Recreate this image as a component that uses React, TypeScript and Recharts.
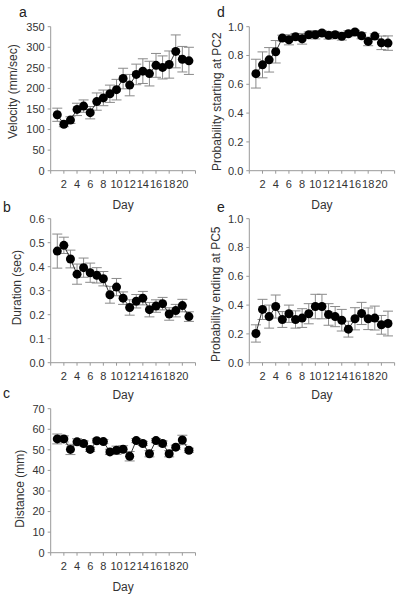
import { LineChart, Line, XAxis, YAxis, ErrorBar, Label } from "recharts";

const days = [1, 2, 3, 4, 5, 6, 7, 8, 9, 10, 11, 12, 13, 14, 15, 16, 17, 18, 19, 20, 21];
const dayTicks = [0, 2, 4, 6, 8, 10, 12, 14, 16, 18, 20, 22];

const velocity = [136, 113, 123, 149, 157, 141, 168, 177, 187, 197, 224, 208, 234, 242, 236, 256, 251, 258, 290, 271, 267];
const velocityErr = [16, 6, 8, 15, 15, 15, 21, 19, 21, 25, 25, 26, 25, 30, 30, 29, 28, 33, 40, 31, 33];

const duration = [0.465, 0.489, 0.432, 0.369, 0.396, 0.375, 0.364, 0.35, 0.283, 0.315, 0.269, 0.23, 0.256, 0.269, 0.221, 0.236, 0.246, 0.203, 0.217, 0.238, 0.192];
const durationErr = [0.071, 0.034, 0.037, 0.042, 0.04, 0.04, 0.032, 0.03, 0.035, 0.036, 0.026, 0.032, 0.028, 0.028, 0.03, 0.026, 0.026, 0.026, 0.026, 0.026, 0.02];

const distance = [55.3, 55.3, 50.2, 53.9, 53.1, 50.2, 54.4, 54, 49, 49.8, 50.3, 46.9, 54.5, 53.1, 48.1, 54.5, 53.1, 48.1, 51.3, 54.8, 49.8];
const distanceErr = [2.4, 1.5, 2.5, 1.5, 1.2, 1, 1, 1, 1.3, 2, 1.7, 2.3, 1, 1, 1.5, 1, 1.2, 1.5, 1, 2.3, 1];

const startPC2 = [0.674, 0.735, 0.77, 0.826, 0.921, 0.909, 0.93, 0.916, 0.944, 0.944, 0.956, 0.94, 0.944, 0.933, 0.951, 0.963, 0.937, 0.898, 0.935, 0.888, 0.886];
const startPC2Err = [0.1, 0.09, 0.085, 0.078, 0.02, 0.035, 0.023, 0.037, 0.019, 0.029, 0.016, 0.026, 0.019, 0.026, 0.02, 0.012, 0.021, 0.03, 0.016, 0.047, 0.05];

const endPC5 = [0.203, 0.37, 0.32, 0.39, 0.3, 0.34, 0.3, 0.31, 0.34, 0.39, 0.39, 0.335, 0.32, 0.295, 0.233, 0.305, 0.342, 0.305, 0.31, 0.263, 0.272];
const endPC5Err = [0.06, 0.07, 0.08, 0.08, 0.055, 0.06, 0.06, 0.065, 0.07, 0.085, 0.085, 0.075, 0.07, 0.075, 0.055, 0.077, 0.077, 0.075, 0.083, 0.065, 0.086];

const font = "'Liberation Sans', Arial, sans-serif";
const textColor = "#333";
const axisColor = "#999";

type PanelProps = {
  left: number;
  top: number;
  width: number;
  yAxisWidth: number;
  marginRight: number;
  values: number[];
  errors: number[];
  yMax: number;
  yTicks: number[];
  decimals: number;
  title: string;
  titleOffset: number;
  titleDy: number;
  dayOffset: number;
};

function Panel(p: PanelProps) {
  const data = days.map((d, i) => ({ day: d, v: p.values[i], e: p.errors[i] }));
  const tickStyle = { fontSize: 11, fill: textColor, fontFamily: font };
  return (
    <div style={{ position: "absolute", left: p.left, top: p.top }}>
      <LineChart width={p.width} height={215} data={data}
        margin={{ top: 26.7, right: p.marginRight, bottom: 0, left: 0 }}>
        <XAxis dataKey="day" type="number" domain={[0, 22]} ticks={dayTicks} interval={0}
          tickFormatter={(t: number) => (t === 0 || t === 22 ? "" : String(t))}
          height={44.3} tickSize={3} tickMargin={6} stroke={axisColor} tick={tickStyle}>
          <Label value="Day" position="insideBottom" offset={p.dayOffset}
            style={{ fontSize: 12, fill: textColor, fontFamily: font }} />
        </XAxis>
        <YAxis type="number" domain={[0, p.yMax]} ticks={p.yTicks} interval={0} width={p.yAxisWidth}
          tickFormatter={(t: number) => t.toFixed(p.decimals)}
          tickSize={3} tickMargin={3} stroke={axisColor} tick={tickStyle}>
          <Label value={p.title} angle={-90} position="insideLeft" offset={p.titleOffset} dy={p.titleDy}
            style={{ fontSize: 12, fill: textColor, fontFamily: font, textAnchor: "middle" }} />
        </YAxis>
        <Line dataKey="v" type="linear" stroke="#333" strokeWidth={1} isAnimationActive={false}
          dot={{ r: 4.5, fill: "#000", stroke: "#000", strokeWidth: 0 }} activeDot={false}>
          <ErrorBar dataKey="e" direction="y" width={5} stroke="#8a8a8a" strokeWidth={1} isAnimationActive={false} />
        </Line>
      </LineChart>
    </div>
  );
}

export default function App() {
  const letterStyle = { fontSize: 14, fill: "#222", fontFamily: font };
  return (
    <div style={{ position: "absolute", left: 0, top: 0, width: 404, height: 599, background: "#fff" }}>
      <Panel left={0} top={0} width={200} yAxisWidth={50.7} marginRight={4.5}
        values={velocity} errors={velocityErr} yMax={350} yTicks={[0, 50, 100, 150, 200, 250, 300, 350]}
        decimals={0} title="Velocity (mm/sec)" titleOffset={13} titleDy={-7} dayOffset={6.5} />
      <Panel left={0} top={192.3} width={200} yAxisWidth={50.7} marginRight={4.5}
        values={duration} errors={durationErr} yMax={0.6} yTicks={[0, 0.1, 0.2, 0.3, 0.4, 0.5, 0.6]}
        decimals={1} title="Duration (sec)" titleOffset={16.5} titleDy={-3} dayOffset={7.8} />
      <Panel left={0} top={381.6} width={200} yAxisWidth={50.7} marginRight={4.5}
        values={distance} errors={distanceErr} yMax={70} yTicks={[0, 10, 20, 30, 40, 50, 60, 70]}
        decimals={0} title="Distance (mm)" titleOffset={19.5} titleDy={8} dayOffset={5.6} />
      <Panel left={200} top={0} width={204} yAxisWidth={49.3} marginRight={9.4}
        values={startPC2} errors={startPC2Err} yMax={1} yTicks={[0, 0.2, 0.4, 0.6, 0.8, 1]}
        decimals={1} title="Probability starting at PC2" titleOffset={16.5} titleDy={3} dayOffset={6.5} />
      <Panel left={200} top={192.3} width={204} yAxisWidth={49.3} marginRight={9.4}
        values={endPC5} errors={endPC5Err} yMax={1} yTicks={[0, 0.2, 0.4, 0.6, 0.8, 1]}
        decimals={1} title="Probability ending at PC5" titleOffset={16} titleDy={3.5} dayOffset={7.8} />
      <svg width={404} height={599} style={{ position: "absolute", left: 0, top: 0, pointerEvents: "none" }}>
        <text x={19} y={17} style={letterStyle}>a</text>
        <text x={3} y={212} style={letterStyle}>b</text>
        <text x={3} y={398} style={letterStyle}>c</text>
        <text x={217} y={17} style={letterStyle}>d</text>
        <text x={217} y={212} style={letterStyle}>e</text>
      </svg>
    </div>
  );
}
